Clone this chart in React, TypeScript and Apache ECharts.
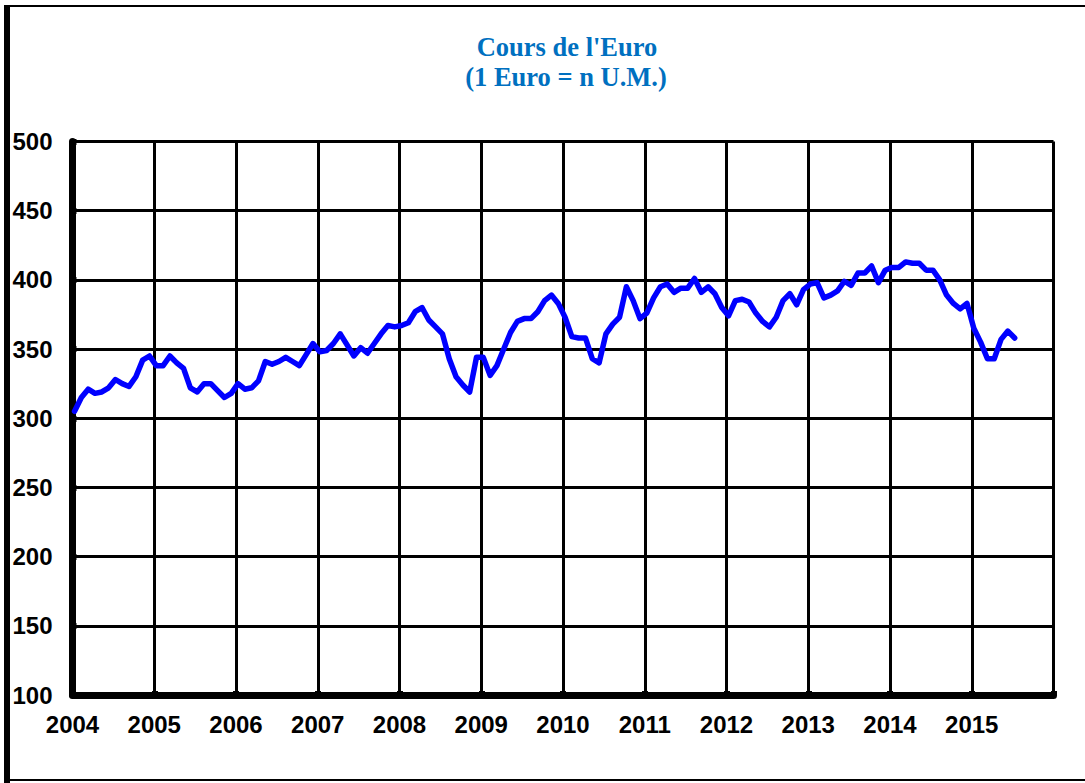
import React, { useEffect, useRef } from "react";
import * as echarts from "echarts";

const startYear = 2004;
const yearTicks = [2004, 2005, 2006, 2007, 2008, 2009, 2010, 2011, 2012, 2013, 2014, 2015, 2016];
const yTicks = [100, 150, 200, 250, 300, 350, 400, 450, 500];
const v2004 = [305, 315, 321, 318, 319, 322, 328, 325, 323, 330, 342, 345];
const v2005 = [338, 338, 345, 340, 336, 322, 319, 325, 325, 320, 315, 318];
const v2006 = [325, 321, 322, 327, 341, 339, 341, 344, 341, 338, 346, 354];
const v2007 = [348, 349, 354, 361, 353, 345, 351, 347, 354, 361, 367, 366];
const v2008 = [367, 369, 377, 380, 371, 366, 361, 343, 330, 324, 319, 344];
const v2009 = [344, 331, 338, 350, 362, 370, 372, 372, 377, 385, 389, 383];
const v2010 = [373, 359, 358, 358, 343, 340, 361, 368, 373, 395, 385, 372];
const v2011 = [376, 387, 395, 397, 391, 394, 394, 401, 391, 395, 390, 380];
const v2012 = [374, 385, 386, 384, 376, 370, 366, 373, 385, 390, 382, 393];
const v2013 = [397, 398, 387, 389, 392, 399, 396, 405, 405, 410, 398, 407];
const v2014 = [409, 409, 413, 412, 412, 407, 407, 400, 389, 383, 379, 383];
const v2015 = [365, 355, 343, 343, 357, 363, 358];

const monthly = [
  ...v2004, ...v2005, ...v2006, ...v2007, ...v2008, ...v2009,
  ...v2010, ...v2011, ...v2012, ...v2013, ...v2014, ...v2015,
];

export default function App() {
  const ref = useRef<HTMLDivElement>(null);
  useEffect(() => {
    if (!ref.current) return;
    const chart = echarts.init(ref.current, null, { renderer: "svg" });
    const data = monthly.map((v, i) => [startYear + (i + 0.3) / 12, v]);
    const titleStyle = { fontFamily: "Liberation Serif", fontWeight: "bold", fontSize: 26.5, color: "#0070C0" };
    chart.setOption({
      animation: false,
      backgroundColor: "#ffffff",
      title: [
        { text: "Cours de l'Euro", left: 562, top: 28, textAlign: "center", textStyle: titleStyle },
        { text: "(1 Euro = n U.M.)", left: 561, top: 58, textAlign: "center", textStyle: titleStyle },
      ],
      graphic: [
        { type: "rect", shape: { x: 4, y: 5, width: 1081, height: 2 }, style: { fill: "#000" } },
        { type: "rect", shape: { x: 4, y: 5, width: 6, height: 778 }, style: { fill: "#000" } },
        { type: "rect", shape: { x: 4, y: 779, width: 1081, height: 2 }, style: { fill: "#000" } },
      ],
      grid: { left: 72.5, top: 141.5, width: 981, height: 553.5, containLabel: false },
      xAxis: {
        type: "value",
        min: yearTicks[0],
        max: yearTicks[yearTicks.length - 1],
        interval: 1,
        axisLine: { show: true, lineStyle: { color: "#000", width: 7 } },
        axisTick: { show: true, inside: true, length: 4, lineStyle: { color: "#000", width: 6 } },
        splitLine: { show: true, lineStyle: { color: "#000", width: 3 } },
        axisLabel: {
          margin: 17,
          fontFamily: "Liberation Sans",
          fontWeight: "bold",
          fontSize: 24,
          color: "#000",
          formatter: (v: number) => (v >= yearTicks[yearTicks.length - 1] ? "" : String(Math.round(v))),
        },
      },
      yAxis: {
        type: "value",
        min: yTicks[0],
        max: yTicks[yTicks.length - 1],
        interval: 50,
        axisLine: { show: true, lineStyle: { color: "#000", width: 7 } },
        axisTick: { show: true, inside: true, length: 4, lineStyle: { color: "#000", width: 6 } },
        splitLine: { show: true, lineStyle: { color: "#000", width: 3 } },
        axisLabel: {
          margin: 20,
          fontFamily: "Liberation Sans",
          fontWeight: "bold",
          fontSize: 24,
          color: "#000",
        },
      },
      series: [
        {
          type: "line",
          data,
          showSymbol: false,
          symbol: "none",
          lineStyle: { color: "#0000FF", width: 5.5, join: "round", cap: "round" },
          z: 5,
        },
      ],
    });
    return () => chart.dispose();
  }, []);
  return (
    <div
      ref={ref}
      style={{ position: "fixed", left: 0, top: 0, width: 1085, height: 783, background: "#fff" }}
    />
  );
}
